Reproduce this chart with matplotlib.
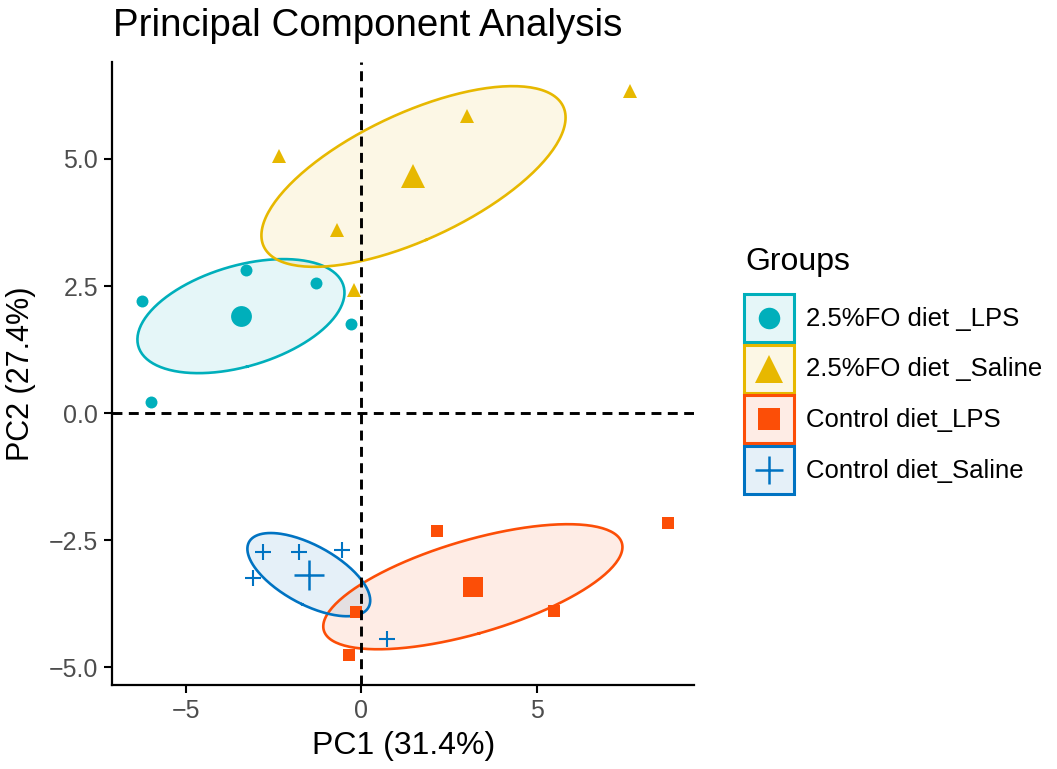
import numpy as np
import matplotlib.pyplot as plt
from matplotlib.lines import Line2D
from matplotlib.patches import Rectangle
from matplotlib.legend_handler import HandlerBase

plt.rcParams['font.family'] = ['Liberation Sans', 'DejaVu Sans']

# PCA scores per group
groups = ['2.5%FO diet _LPS', '2.5%FO diet _Saline', 'Control diet_LPS', 'Control diet_Saline']
pc1 = {
    '2.5%FO diet _LPS': [-6.26, -3.29, -1.29, -0.29, -6.00],
    '2.5%FO diet _Saline': [-2.34, -0.69, -0.20, 3.03, 7.66],
    'Control diet_LPS': [2.17, 8.74, 5.49, -0.14, -0.34],
    'Control diet_Saline': [-2.80, -1.77, -0.54, -3.09, 0.74],
}
pc2 = {
    '2.5%FO diet _LPS': [2.20, 2.81, 2.56, 1.75, 0.22],
    '2.5%FO diet _Saline': [5.06, 3.60, 2.42, 5.85, 6.34],
    'Control diet_LPS': [-2.32, -2.17, -3.90, -3.92, -4.76],
    'Control diet_Saline': [-2.74, -2.74, -2.70, -3.25, -4.45],
}
colors = ['#00AFBB', '#E7B800', '#FC4E07', '#0073C2']
markers = ['o', '^', 's', '+']
pt_size = [8.6, 10.5, 8.5, 12]
mean_size = [15, 17, 14.5, 21.5]
legend_size = [15.5, 20, 15.5, 20]

x_ticks = [-5, 0, 5]
y_ticks = [-5.0, -2.5, 0.0, 2.5, 5.0]


def conf_ellipse(x, y, level=0.95, npoint=200):
    # confidence ellipse of the group barycentre (cov / n, chi-square radius)
    pts = np.column_stack([x, y])
    centre = pts.mean(axis=0)
    cov = np.cov(pts, rowvar=False) / len(pts)
    r = np.sqrt(-2 * np.log(1 - level))
    vals, vecs = np.linalg.eigh(cov)
    t = np.linspace(0, 2 * np.pi, npoint)
    circle = np.vstack([np.cos(t), np.sin(t)])
    ell = vecs @ (np.sqrt(vals)[:, None] * circle) * r
    return centre[0] + ell[0], centre[1] + ell[1]


class BoxedMarker(HandlerBase):
    def create_artists(self, legend, orig_handle, xdescent, ydescent,
                       width, height, fontsize, trans):
        c = orig_handle.get_color()
        box = Rectangle((-xdescent, -ydescent), width, height,
                        facecolor=(*plt.matplotlib.colors.to_rgb(c), 0.1),
                        edgecolor=c, lw=2.2, transform=trans)
        mk = Line2D([width / 2 - xdescent], [height / 2 - ydescent],
                    marker=orig_handle.get_marker(), color=c,
                    markersize=orig_handle.get_markersize(),
                    markeredgewidth=orig_handle.get_markeredgewidth(),
                    linestyle='none', transform=trans)
        return [box, mk]


fig = plt.figure(figsize=(10.57, 7.69), dpi=100)
ax = fig.add_axes([0.106, 0.109, 0.551, 0.81])

handles = []
for i, g in enumerate(groups):
    x = np.array(pc1[g])
    y = np.array(pc2[g])
    ex, ey = conf_ellipse(x, y)
    ax.fill(ex, ey, color=colors[i], alpha=0.1, lw=0, zorder=1)
    ax.plot(ex, ey, color=colors[i], lw=1.9, zorder=2)
    mew = 1.5 if markers[i] == '+' else 0
    ax.plot(x, y, linestyle='none', marker=markers[i], color=colors[i],
            markersize=pt_size[i], markeredgewidth=mew, zorder=3)
    ax.plot([x.mean()], [y.mean()], linestyle='none', marker=markers[i],
            color=colors[i], markersize=mean_size[i],
            markeredgewidth=1.8 if markers[i] == '+' else 0, zorder=3)
    handles.append(Line2D([], [], linestyle='none', marker=markers[i], color=colors[i],
                          markersize=legend_size[i], markeredgewidth=1.8 if markers[i] == '+' else 0,
                          label=g))

dash = (0, (3.4, 2.2))
ax.axhline(0, color='black', ls=dash, lw=2.1, zorder=4)
ax.axvline(0, color='black', ls=dash, lw=2.1, zorder=4)

ax.set_xlim(-7.1, 9.5)
ax.set_ylim(-5.35, 6.9)
ax.set_xticks(x_ticks)
ax.set_xticklabels(['\u2212' + str(abs(v)) if v < 0 else str(v) for v in x_ticks])
ax.set_yticks(y_ticks)
ax.set_yticklabels([('\u2212' if v < 0 else '') + f'{abs(v):.1f}' for v in y_ticks])
ax.tick_params(length=6, width=1.5, color='black', labelsize=18, labelcolor='#4D4D4D', pad=4)
for s in ['top', 'right']:
    ax.spines[s].set_visible(False)
for s in ['left', 'bottom']:
    ax.spines[s].set_linewidth(1.6)

ax.set_xlabel('PC1 (31.4%)', fontsize=23, labelpad=6)
ax.set_ylabel('PC2 (27.4%)', fontsize=22, labelpad=9)
fig.text(113 / 1057, 1 - 26 / 769, 'Principal Component Analysis', fontsize=27.7,
         va='center', ha='left')

# legend title placed on its own, keys as coloured boxes below it
fig.text(745 / 1057, 1 - 262 / 769, 'Groups', fontsize=23, va='center', ha='left')
leg = fig.legend(handles=handles, handler_map={Line2D: BoxedMarker()},
                 loc='upper left', bbox_to_anchor=(744 / 1057, 1 - 294 / 769),
                 frameon=False, fontsize=18.5,
                 handlelength=1.95, handleheight=2.5, labelspacing=0.1,
                 handletextpad=0.45, borderpad=0, borderaxespad=0)

fig.savefig('out.png', dpi=100)
